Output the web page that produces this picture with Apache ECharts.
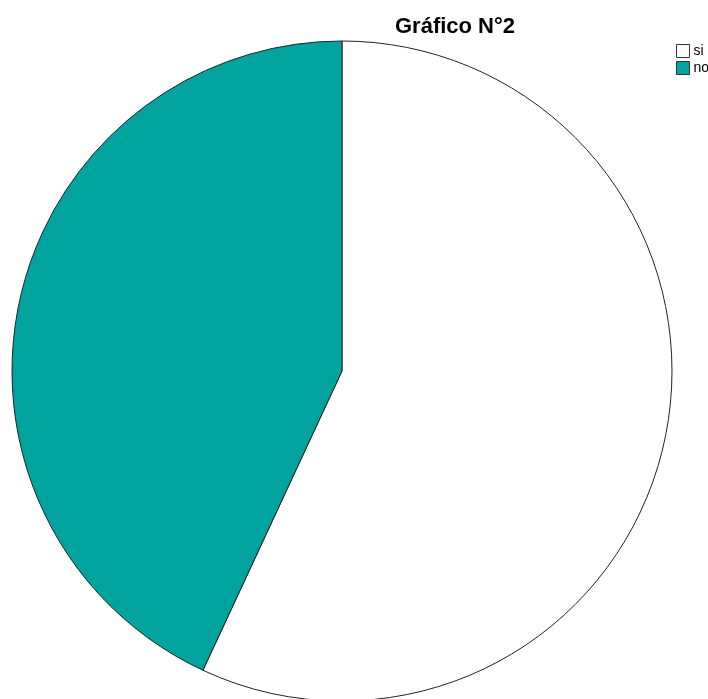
<!DOCTYPE html>
<html>
<head>
<meta charset="utf-8">
<script src="https://cdn.jsdelivr.net/npm/echarts@6/dist/echarts.min.js"></script>
<style>
  html, body { margin: 0; padding: 0; background: #fff; }
  #chart { width: 708px; height: 699px; }
</style>
</head>
<body>
<div id="chart"></div>
<script>
// categories and counts
const categories = ['si', 'no']
const values = [37, 28]
const colors = ['#ffffff', '#00a39d']

const chart = echarts.init(document.getElementById('chart'))
chart.setOption({
  animation: false,
  title: {
    text: 'Gráfico N°2',
    left: 450,
    top: 11,
    textAlign: 'center',
    textStyle: {
      fontFamily: 'Liberation Sans',
      fontSize: 22,
      fontWeight: 'bold',
      color: '#000'
    }
  },
  legend: {
    orient: 'vertical',
    left: 671,
    top: 39,
    itemWidth: 13,
    itemHeight: 13,
    itemGap: 3,
    icon: 'rect',
    textStyle: {
      fontFamily: 'Liberation Sans',
      fontSize: 14,
      color: '#000',
      padding: [0, 0, 0, -1]
    },
    itemStyle: { borderColor: '#333', borderWidth: 1 },
    data: categories
  },
  series: [{
    type: 'pie',
    center: [342, 371],
    radius: 330,
    startAngle: 90,
    clockwise: true,
    label: { show: false },
    labelLine: { show: false },
    emphasis: { disabled: true },
    itemStyle: { borderColor: '#222', borderWidth: 1 },
    data: categories.map((name, i) => ({
      name: name,
      value: values[i],
      itemStyle: { color: colors[i] }
    }))
  }]
})
</script>
</body>
</html>
